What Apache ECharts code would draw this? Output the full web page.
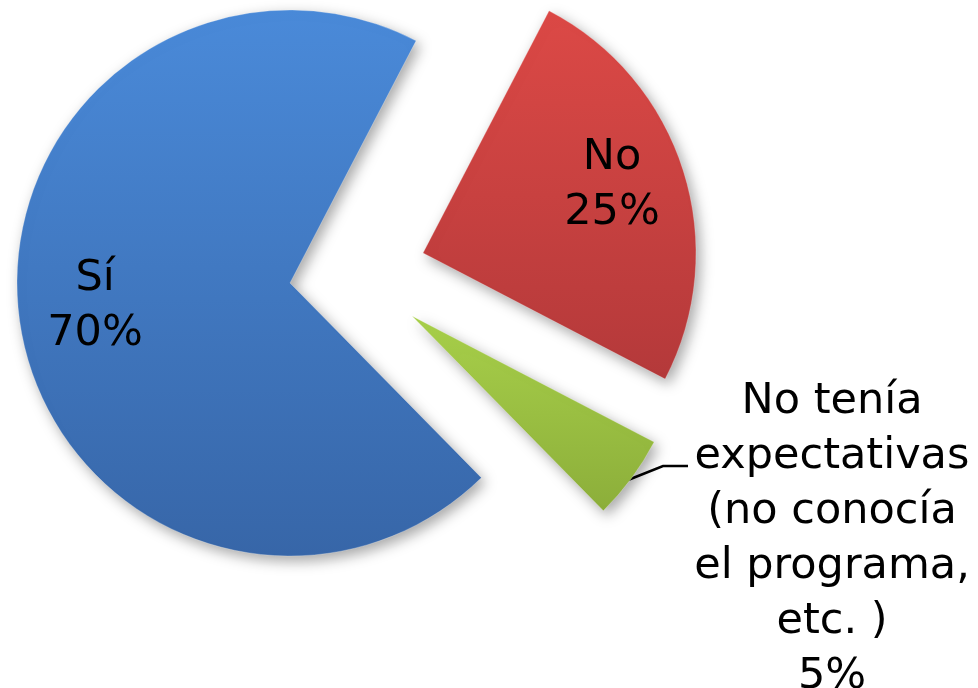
<!DOCTYPE html>
<html>
<head>
<meta charset="utf-8">
<script src="https://cdn.jsdelivr.net/npm/echarts@6/dist/echarts.min.js"></script>
<style>
html,body{margin:0;padding:0;background:#ffffff;}
#chart{width:978px;height:688px;}
</style>
</head>
<body>
<div id="chart"></div>
<script>
// Data
const categories = ['Sí', 'No', 'No tenía\nexpectativas\n(no conocía\nel programa,\netc. )'];
const values = [70, 25, 5];
const labelTexts = ['Sí\n70%', 'No\n25%', 'No tenía\nexpectativas\n(no conocía\nel programa,\netc. )\n5%'];

// Styling (not data)
const colors = [
  {type:'linear',x:0,y:0,x2:0,y2:1,colorStops:[{offset:0,color:'#4a8ad9'},{offset:1,color:'#3766a8'}]},
  {type:'linear',x:0,y:0,x2:0,y2:1,colorStops:[{offset:0,color:'#dc4946'},{offset:1,color:'#b4393a'}]},
  {type:'linear',x:0,y:0,x2:0,y2:1,colorStops:[{offset:0,color:'#a8d04a'},{offset:1,color:'#8cae3a'}]}
];
const centers = [[290, 283], [423, 253], [412, 316]];
const labelPos = [
  {x: 95, y: 306},
  {x: 612, y: 185},
  {x: 832, y: 539, linePoints: [[628, 480], [663, 466], [688, 466]]}
];

const chart = echarts.init(document.getElementById('chart'), null, {renderer: 'canvas'});

const series = values.map(function (_, idx) {
  return {
    type: 'pie',
    radius: 273,
    center: centers[idx],
    startAngle: -45.5,
    clockwise: true,
    silent: true,
    animation: false,
    avoidLabelOverlap: false,
    emphasis: {disabled: true},
    data: values.map(function (v, i) {
      const visible = i === idx;
      return {
        name: categories[i],
        value: v,
        itemStyle: visible ? {
          color: colors[i],
          shadowBlur: 14,
          shadowColor: 'rgba(0,0,0,0.35)',
          shadowOffsetX: 4,
          shadowOffsetY: 5,
          borderColor: 'rgba(255,255,255,0.25)',
          borderWidth: 1
        } : {color: 'rgba(0,0,0,0)', borderWidth: 0},
        label: visible ? {
          show: true,
          position: i === 2 ? 'outside' : 'inside',
          formatter: labelTexts[i],
          fontFamily: 'DejaVu Sans',
          fontSize: 43,
          lineHeight: 55,
          color: '#000000',
          align: 'center'
        } : {show: false},
        labelLine: visible && i === 2 ? {
          show: true,
          lineStyle: {color: '#000000', width: 2.5}
        } : {show: false}
      };
    }),
    labelLayout: function () {
      const p = labelPos[idx];
      const res = {x: p.x, y: p.y, align: 'center', verticalAlign: 'middle'};
      if (p.linePoints) res.labelLinePoints = p.linePoints;
      return res;
    }
  };
});

chart.setOption({
  backgroundColor: '#ffffff',
  series: series
});
</script>
</body>
</html>
